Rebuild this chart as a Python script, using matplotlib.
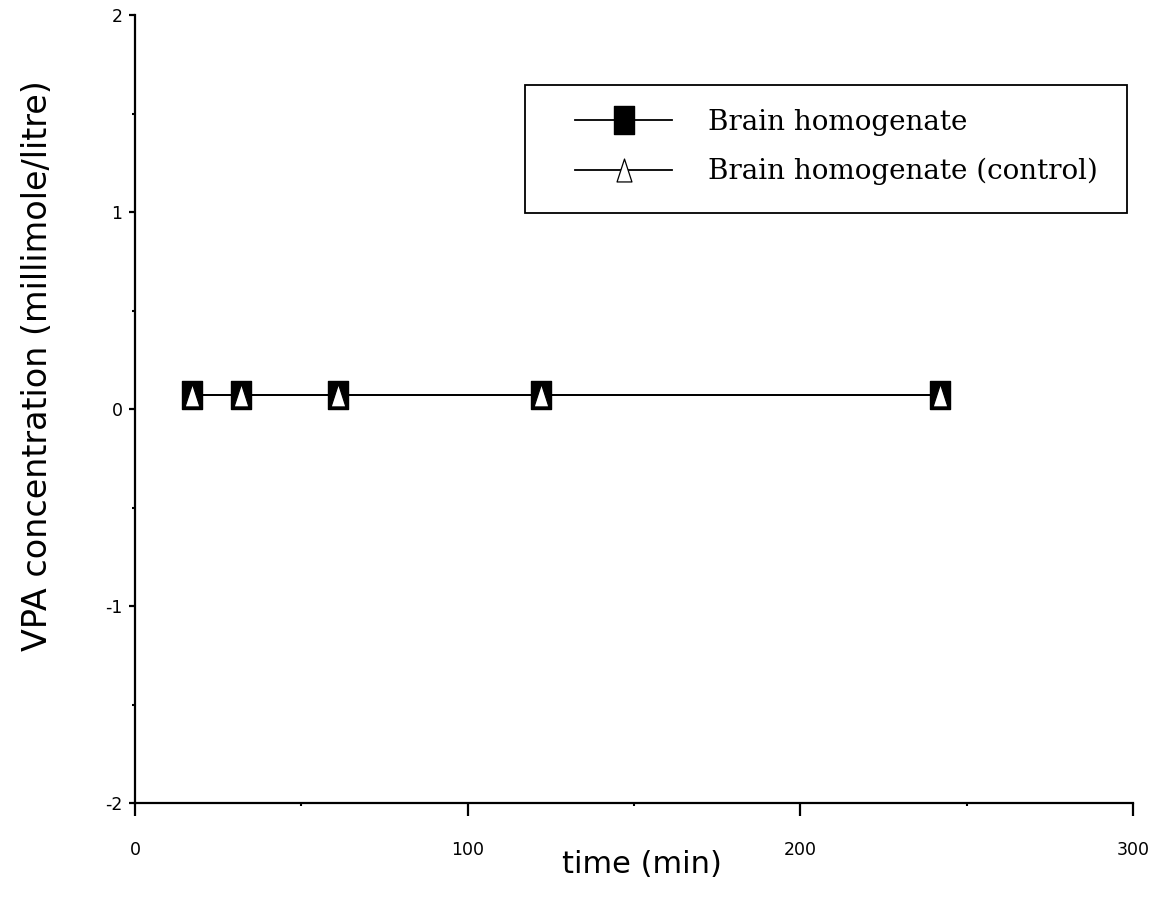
import matplotlib.pyplot as plt
from matplotlib.path import Path
from matplotlib.patches import Rectangle
from matplotlib.ticker import MultipleLocator

plt.rcParams["axes.unicode_minus"] = False

# Dati
tempo = [17, 32, 61, 122, 242]
vpa_brain = [0.07, 0.07, 0.07, 0.07, 0.07]
vpa_control = [0.07, 0.07, 0.07, 0.07, 0.07]

serie = ["Brain homogenate", "Brain homogenate (control)"]
x_ticks = [0, 100, 200, 300]
y_ticks = [-2, -1, 0, 1, 2]

# Marker: rettangolo alto pieno e triangolo vuoto
rett = Path([(-0.7, -1), (0.7, -1), (0.7, 1), (-0.7, 1), (-0.7, -1)],
            [Path.MOVETO, Path.LINETO, Path.LINETO, Path.LINETO, Path.CLOSEPOLY])
tri = Path([(0, 1), (-0.65, -1), (0.65, -1), (0, 1)],
           [Path.MOVETO, Path.LINETO, Path.LINETO, Path.CLOSEPOLY])

fig = plt.figure(figsize=(11.6, 9.23), dpi=100)
ax = fig.add_axes([0.1164, 0.13, 0.8603, 0.8537])

ax.plot(tempo, vpa_brain, color="black", linewidth=1.3,
        marker=rett, markersize=20, markerfacecolor="black",
        markeredgecolor="black", label=serie[0])
ax.plot(tempo, vpa_control, color="black", linewidth=1.3,
        marker=tri, markersize=16.5, markerfacecolor="white",
        markeredgecolor="black", markeredgewidth=0.9, label=serie[1])

ax.set_xlim(0, 300)
ax.set_ylim(-2, 2)
ax.set_xticks(x_ticks)
ax.set_yticks(y_ticks)
ax.xaxis.set_minor_locator(MultipleLocator(50))
ax.yaxis.set_minor_locator(MultipleLocator(0.5))

for lato in ["top", "right"]:
    ax.spines[lato].set_visible(False)
for lato in ["left", "bottom"]:
    ax.spines[lato].set_linewidth(1.6)

ax.tick_params(axis="x", which="major", direction="out", length=9, width=1.6,
               pad=18, labelsize=12.5)
ax.tick_params(axis="y", which="major", direction="out", length=4, width=1.6,
               pad=5, labelsize=12.5)
ax.tick_params(which="minor", direction="out", length=2, width=1.5)
for lab in ax.get_xticklabels() + ax.get_yticklabels():
    lab.set_family("DejaVu Sans")

# Legenda senza cornice + cornice disegnata a parte
leg = ax.legend(loc="upper left", bbox_to_anchor=(0.4409, 0.881),
                prop={"family": "DejaVu Serif", "size": 20},
                handlelength=3.5, handletextpad=1.3, borderpad=0,
                labelspacing=0.8, borderaxespad=0, frameon=False)
ax.add_patch(Rectangle((0.3908, 0.7487), 0.603, 0.1624, transform=ax.transAxes,
                       fill=False, edgecolor="black", linewidth=1.3,
                       clip_on=False))

fig.text(0.032, 0.604, "VPA concentration (millimole/litre)", rotation=90,
         ha="center", va="center", fontsize=24, family="DejaVu Sans")
fig.text(0.553, 0.063, "time (min)", ha="center", va="center",
         fontsize=22, family="DejaVu Sans")

plt.savefig("out.png")
plt.close()
